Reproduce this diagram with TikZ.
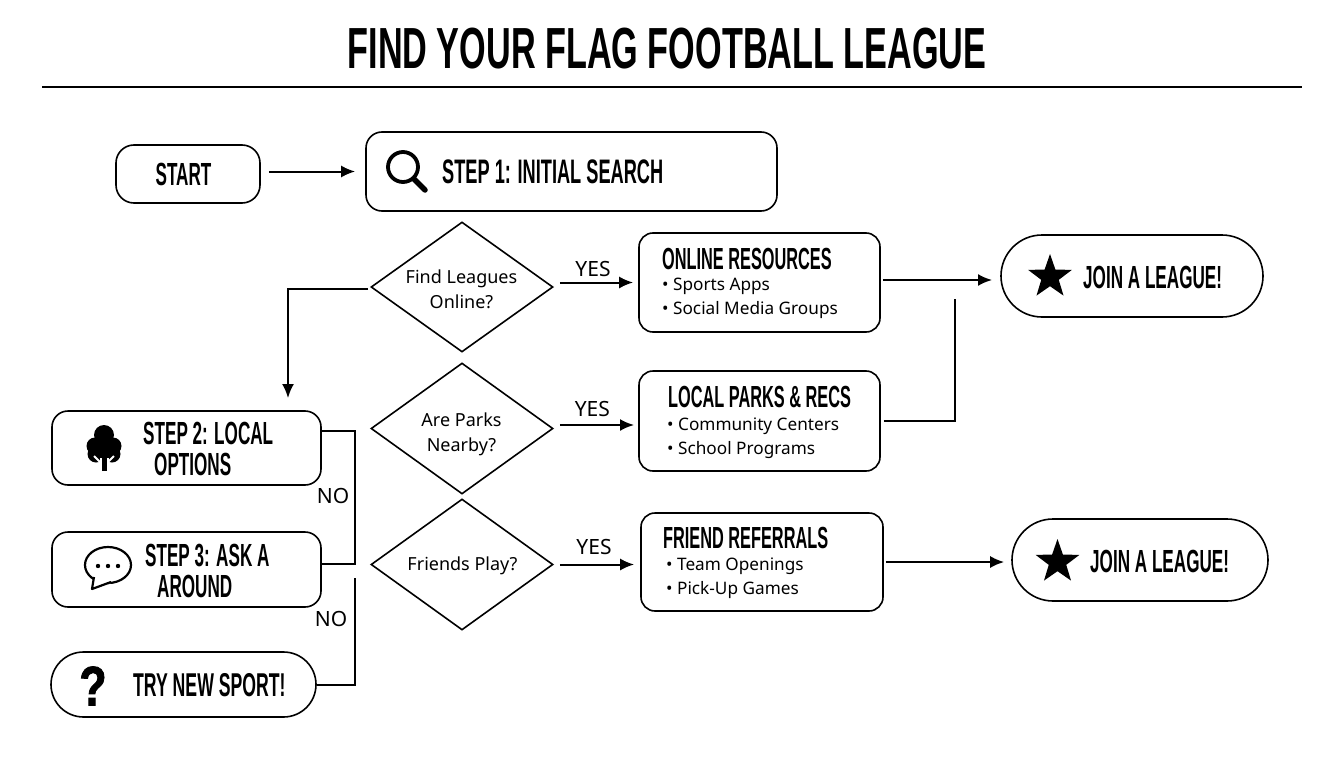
\documentclass[tikz,border=0pt]{standalone}
\usepackage{fontspec}
\setmainfont{Noto Sans}
\newfontfamily\headfont[FakeStretch=0.535]{Liberation Sans Bold}
\newfontfamily\titlefont[FakeStretch=0.59]{Liberation Sans Bold}
\newfontfamily\markfont[FakeStretch=0.8,FakeBold=1.5]{Liberation Sans Bold}
\usetikzlibrary{calc,arrows.meta,shapes.geometric,shapes.misc}
\newcommand{\hd}[1]{\fontsize{#1}{#1}\selectfont\headfont}
\newcommand{\bd}{\fontsize{18}{25}\selectfont}
\tikzset{
  box/.style={draw,line width=1.6pt,rounded corners=16pt,inner sep=0pt},
  pill/.style={draw,line width=1.6pt,rounded rectangle,inner sep=0pt},
  dec/.style={draw,line width=1.6pt,diamond,shape aspect=1.4,inner sep=0pt},
  dectxt/.style={inner sep=0pt,align=center,font=\bd},
  head/.style={inner sep=0pt,align=left,font=\hd{32},text height=23pt,text depth=0pt},
  resource/.style={head,anchor=west,font=\hd{30.5}},
  twoline/.style={inner sep=0pt,anchor=north west,align=left,font=\fontsize{32}{31}\selectfont\headfont},
  items/.style={inner sep=0pt,align=left,anchor=west,font=\fontsize{17.2}{24}\selectfont},
  tag/.style={inner sep=0pt,font=\fontsize{21}{21}\selectfont},
  flow/.style={-{Latex[length=14pt,width=12pt]},line width=2pt},
  link/.style={line width=2pt},
  starnode/.style={star,star points=5,star point ratio=2.5,fill,inner sep=0pt,minimum size=46pt}
}
\begin{document}
\begin{tikzpicture}[x=1pt,y=-1pt]
  \useasboundingbox (0,0) rectangle (1344,768);
  % title
  \node[inner sep=0pt,font=\fontsize{58}{58}\selectfont\titlefont](title)at(667,49){FIND YOUR FLAG FOOTBALL LEAGUE};
  \coordinate (ruleleft) at (42,87);
  \coordinate (ruleright) at (1302,87);
  \draw[line width=2.4pt](ruleleft)--(ruleright);
  % top row
  \node[box,rounded corners=18pt,minimum width=144pt,minimum height=58pt](start)at(188,174){};
  \node[head](starttxt)at(183.5,174){START};
  \node[box,minimum width=411pt,minimum height=79pt](step1)at(571.5,171.5){};
  \node[head,anchor=west,font=\hd{34}](step1txt)at(442,171.5){STEP 1: INITIAL SEARCH};
  \draw[line width=3.8pt](403,167)circle(15);
  \draw[line width=5.5pt,line cap=round](414,179)--(425,190);
  % decisions
  \node[dec,minimum width=182pt,minimum height=130pt](find)at(462,287){};
  \node[dectxt](findtxt)at(461.5,289.5){Find Leagues\\Online?};
  \node[dec,minimum width=182pt,minimum height=131pt](parks)at(462,428.5){};
  \node[dectxt](parkstxt)at(461.5,434){Are Parks\\Nearby?};
  \node[dec,minimum width=182pt,minimum height=131pt](friends)at(462,564.5){};
  \node[dectxt](friendstxt)at(462.5,565.5){Friends Play?};
  % resource boxes
  \node[box,rounded corners=14pt,minimum width=241pt,minimum height=99pt](online)at(759.5,282.5){};
  \node[resource](onlinetxt)at(662,257.5){ONLINE RESOURCES};
  \node[items](onlinelist)at(662,298.5){• Sports Apps\\• Social Media Groups};
  \node[box,rounded corners=14pt,minimum width=241pt,minimum height=100pt](local)at(759.5,421){};
  \node[resource](localtxt)at(668,396){LOCAL PARKS \& RECS};
  \node[items](locallist)at(667,438){• Community Centers\\• School Programs};
  \node[box,rounded corners=14pt,minimum width=242pt,minimum height=98pt](friend)at(762,562){};
  \node[resource](friendtxt)at(663,536.5){FRIEND REFERRALS};
  \node[items](friendlist)at(666,578){• Team Openings\\• Pick-Up Games};
  % join
  \node[pill,minimum width=262pt,minimum height=82pt](join)at(1132,276){};
  \node[starnode](joinstar)at(1050,277){};
  \node[head,anchor=west](jointxt)at(1083,276.5){JOIN A LEAGUE!};
  \node[pill,minimum width=256pt,minimum height=82pt](joinb)at(1140,560){};
  \node[starnode](joinbstar)at(1057.5,562){};
  \node[head,anchor=west](joinbtxt)at(1090,561){JOIN A LEAGUE!};
  % left column
  \node[box,minimum width=269pt,minimum height=74pt](step2)at(186.5,448){};
  \node[twoline](step2txt)at(143,421.5){STEP 2: LOCAL\\\hspace{11pt}OPTIONS};
  \node[box,minimum width=269pt,minimum height=75pt](step3)at(186.5,569.5){};
  \node[twoline](step3txt)at(145,544){STEP 3: ASK A\\\hspace{12pt}AROUND};
  \node[pill,minimum width=265pt,minimum height=65pt](try)at(183.5,684.5){};
  \node[inner sep=0pt,font=\fontsize{56}{56}\selectfont\markfont](tryicon)at(93,686){?};
  \node[head,anchor=west,font=\hd{33}](trytxt)at(133,685){TRY NEW SPORT!};
  % tree
  \fill(104,435)circle(10);
  \fill(95,446)circle(8.5);
  \fill(113,446)circle(8.5);
  \fill(96,454)circle(8.5);
  \fill(112,454)circle(8.5);
  \fill(104,448)circle(10);
  \draw[white,line width=9pt](104,466)--(104,458);
  \draw[line width=5pt](104,471)--(104,450);
  \draw[white,line width=2pt](100,462)--(94,456);
  \draw[white,line width=2pt](108,462)--(114,456);
  % speech bubble
  \draw[line width=2.2pt](108,565)circle[x radius=23,y radius=18];
  \fill[white](94,577)--(92,589)--(111,583)--(106,575)--cycle;
  \draw[line width=2.2pt,line join=round](94,577)--(92,589)--(111,582);
  \foreach \x in {98,108,118}{\fill(\x,566)circle(2.2);}
  % connectors
  \draw[flow,shorten <=8pt,shorten >=10pt](start.east |- step1.west)--(step1.west);
  \coordinate (drop) at (288,411);
  \coordinate (findno) at (372,289);
  \draw[flow,shorten <=4pt,shorten >=13pt](findno)-|(drop);
  \draw[flow,shorten <=6pt,shorten >=5pt](find.east |- online.west)--(online.west) node[midway,above=5pt,xshift=-3pt,tag](yesa){YES};
  \coordinate (parksyes) at (639,425);
  \draw[flow,shorten <=6pt,shorten >=5pt](parks.east |- parksyes)--(parksyes) node[midway,above=7pt,xshift=-4pt,tag](yesb){YES};
  \draw[flow,shorten <=6pt,shorten >=6pt](friends.east)--(friend.west |- friends.east) node[midway,above=9pt,xshift=-3pt,tag](yesc){YES};
  \coordinate (onlinejoin) at (1001,280);
  \draw[flow,shorten <=2pt,shorten >=9pt](online.east |- onlinejoin)--(onlinejoin);
  \coordinate (localup) at (955,299);
  \draw[link,shorten <=3pt](local.east)-|(localup);
  \draw[flow,shorten <=2pt,shorten >=7pt](friend.east)--(joinb.west |- friend.east);
  \coordinate (busa) at (355,431);
  \coordinate (busb) at (355,564);
  \coordinate (busc) at (355,578);
  \draw[link](step2.east |- busa)--(busa)--(busb)--(step3.east |- busb);
  \draw[link](busc)|-(try.east);
  \node[tag](noa)at(333,496){NO};
  \node[tag](nob)at(331,619){NO};
\end{tikzpicture}
\end{document}
